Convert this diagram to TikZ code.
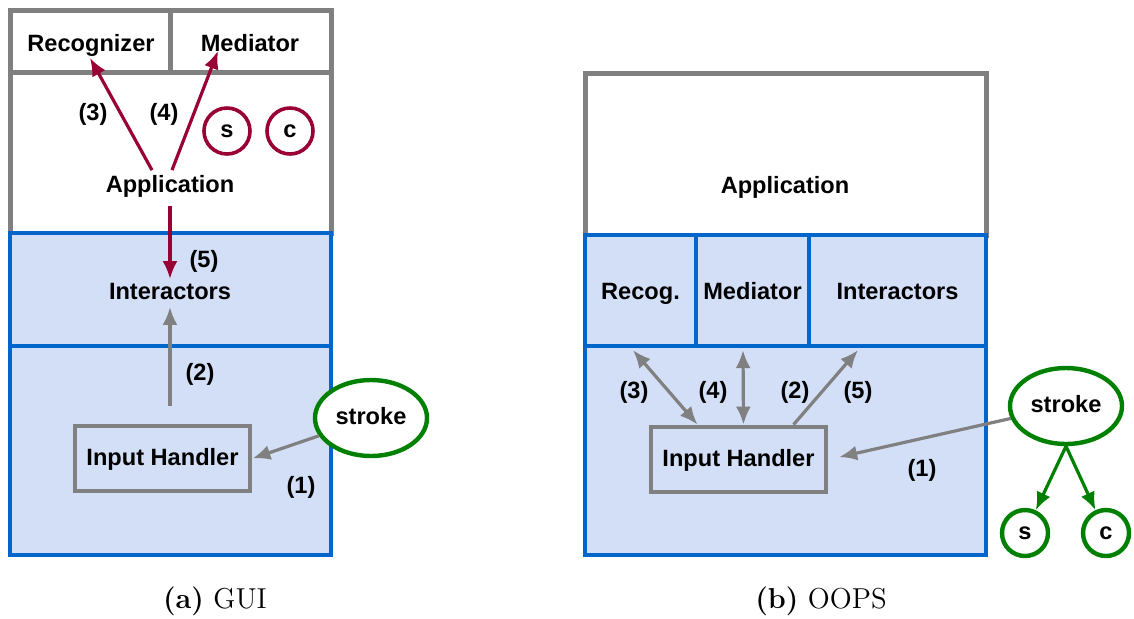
\documentclass[tikz,border=0pt]{standalone}
\usepackage{fontspec}
\setsansfont{Liberation Sans}
\usetikzlibrary{calc,arrows.meta,positioning,shapes.geometric}

\definecolor{appgray}{HTML}{808080}
\definecolor{layerblue}{HTML}{0066CC}
\definecolor{layerfill}{HTML}{D3DFF7}
\definecolor{msgred}{HTML}{990033}
\definecolor{strokegreen}{HTML}{008000}

\begin{document}
\begin{tikzpicture}[x=0.5pt,y=-0.5pt
    , every node/.style={inner sep=1pt,text height=9pt,text depth=2.5pt,
        font=\sffamily\bfseries\fontsize{11.8}{14}\selectfont}
    , graybox/.style={draw=appgray,line width=2.5pt,fill=white}
    , bluebox/.style={draw=layerblue,line width=2.1pt,fill=layerfill}
    , handler/.style={draw=appgray,line width=2.4pt,minimum width=87.5pt,minimum height=32.5pt}
    , strokenode/.style={ellipse,draw=strokegreen,line width=2.2pt,fill=white,minimum width=56pt,minimum height=38pt}
    , token/.style={circle,draw=#1,line width=1.8pt,fill=white,minimum size=23pt,inner sep=0pt}
    , redarrow/.style={draw=msgred,line width=1.6pt,-{Latex[length=9pt,width=7.5pt]}}
    , grayarrow/.style={draw=appgray,line width=1.6pt,-{Latex[length=9pt,width=7.5pt]}}
    , greenarrow/.style={draw=strokegreen,line width=1.6pt,-{Latex[length=9pt,width=7.5pt]}}
    , caption/.style={font=\fontsize{14.4}{17}\selectfont,text height=,text depth=}
]
    \useasboundingbox (0,0) rectangle (1134,618);

    % (a) GUI
    \draw[graybox] (10,10) rectangle (331,233);
    \draw[appgray,line width=2.5pt] (10,72) -- (331,72) (170,10) -- (170,72);
    \draw[bluebox] (10,233) rectangle (331,555);
    \draw[layerblue,line width=2.1pt] (10,346) -- (331,346);

    \node (rec) at (91,45) {Recognizer};
    \node (med) at (250,45) {Mediator};
    \node (app) at (170,186) {Application};
    \foreach \lbl/\x in {s/227,c/290}
        \node[token=msgred] (\lbl1) at (\x,131) {\lbl};
    \node (inter) at (170,293) {Interactors};
    \node[handler] (ih) at (162.5,458.5) {Input Handler};
    \node[strokenode] (stroke) at (371,418) {stroke};

    \draw[redarrow] ($(app.north)+(-18,-2)$) -- ($(rec.south)+(-1,-1)$);
    \draw[redarrow] ($(app.north)+(2,-2)$) -- ($(med.south)+(-32,-8)$);
    \draw[redarrow,shorten <=3pt] (app.south) -- (inter.north);
    \draw[grayarrow,shorten <=9pt] (ih.north -| inter.south) -- (inter.south);
    \draw[grayarrow] (stroke) -- (ih.east);

    \node at (93,114) {(3)};
    \node at (164,114) {(4)};
    \node at (204,261) {(5)};
    \node at (200,374) {(2)};
    \node at (301,487) {(1)};

    % (b) OOPS
    \draw[graybox] (585,73) rectangle (986,235);
    \node (app2) at (785,187) {Application};
    \node[bluebox,minimum width=55.5pt,minimum height=55.5pt,text height=11pt] (recog) at (640.5,290.5) {Recog.};
    \node[bluebox,minimum width=56.5pt,minimum height=55.5pt,text height=11pt] (med2) at (752.5,290.5) {Mediator};
    \node[bluebox,minimum width=88.5pt,minimum height=55.5pt,text height=11pt] (inter2) at (897.5,290.5) {Interactors};
    \draw[bluebox] (585,346) rectangle (986,555);

    \node[handler] (ih2) at (738.5,459.5) {Input Handler};
    \node[strokenode] (stroke2) at (1066,406) {stroke};
    \foreach \lbl/\x in {s/1025,c/1106}
        \node[token=strokegreen,line width=2.2pt] (\lbl2) at (\x,533) {\lbl};

    \draw[grayarrow,{Latex[length=9pt,width=7.5pt]}-{Latex[length=9pt,width=7.5pt]}]
        ($(recog.south)+(-7.5,2)$) -- ($(ih2.north)+(-41,0)$);
    \draw[grayarrow,{Latex[length=9pt,width=7.5pt]}-{Latex[length=9pt,width=7.5pt]}]
        ($(med2.south)+(-9.5,2)$) -- ($(ih2.north)+(5,0)$);
    \draw[grayarrow] ($(ih2.north)+(55,0)$) -- ($(inter2.south)+(-39.5,2)$);
    \draw[grayarrow,shorten >=5.5pt] (stroke2) -- (ih2.east);
    \draw[greenarrow] (stroke2.south) -- (s2);
    \draw[greenarrow] (stroke2.south) -- (c2);

    \node at (634,392) {(3)};
    \node at (713,392) {(4)};
    \node at (795,392) {(2)};
    \node at (858,392) {(5)};
    \node at (922,470) {(1)};

    % Captions
    \node[caption] (capa) at (215,601) {\textbf{(a)} GUI};
    \node[caption] (capb) at (821,601) {\textbf{(b)} OOPS};
\end{tikzpicture}
\end{document}
